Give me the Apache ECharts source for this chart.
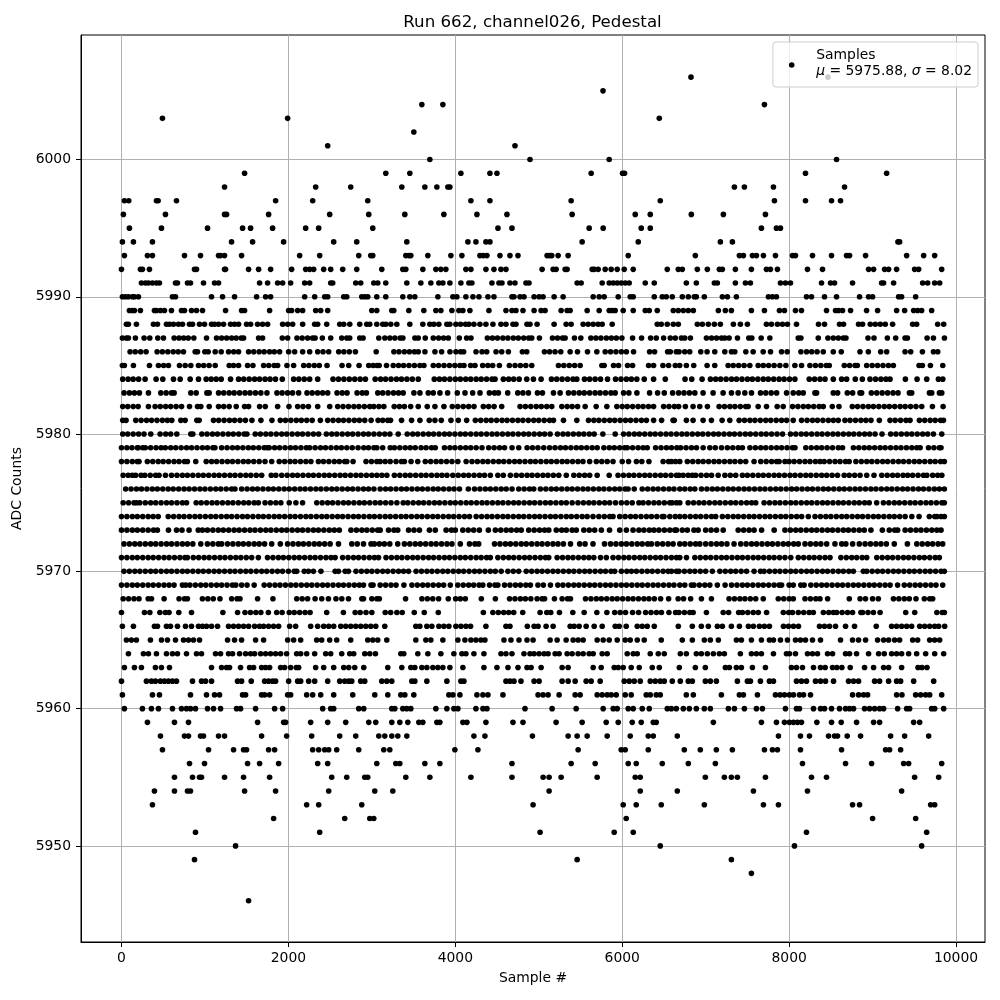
<!DOCTYPE html>
<html><head><meta charset="utf-8"><style>html,body{margin:0;background:#fff}#c{width:1000px;height:1000px}</style>
<script src="https://cdn.jsdelivr.net/npm/echarts@6/dist/echarts.min.js"></script></head><body><div id="c"></div><script>
const xTicks=[0,2000,4000,6000,8000,10000];
const yTicks=[5950,5960,5970,5980,5990,6000];
const y6006=[6824,8465];
const y6005=[5770];
const y6004=[3599,3851,7704];
const y6003=[491,1991,6444];
const y6002=[3503];
const y6001=[2471,4715];
const y6000=[3695,4895,5844,8568];
const y5999=[1475,3167,3455,4067,4415,4499,5628,6004,6028,8196,9168];
const y5998=[1235,2327,2747,3359,3635,3779,3911,3935,7344,7464,7812,8664];
const y5997=[35,87,419,439,659,1847,2291,2951,4187,4415,5388,6456,7824,8196,8508,8616];
const y5996=[23,527,1235,1259,1763,2495,2963,3395,3863,4259,4619,5400,6156,6336,6828,7212,7716];
const y5995=[95,479,1031,1451,1547,1811,2207,2363,3011,4511,4679,5604,5772,6228,6336,7668,7848,7896];
const y5994=[11,143,371,1319,1571,1943,2543,2819,3419,4151,4247,4367,4415,5520,6192,7176,7320,9304,9324];
const y5993=[35,311,371,755,947,1163,1187,1235,1439,2135,2375,2843,2987,3011,3407,3443,3467,3671,3947,4079,4295,4335,4379,4535,4655,4751,5100,5132,5156,5232,5352,6072,6876,7404,7452,7560,7608,7692,7836,8040,8076,8280,8508,8688,8724,8916,9408,9612,9744];
const y5992=[0,227,251,335,875,899,1235,1247,1523,1643,1787,2039,2207,2255,2303,2423,2507,2651,2819,3119,3371,3407,3611,3767,3827,3887,4127,4187,4367,4463,4547,4607,5040,5172,5208,5316,5340,5640,5664,5712,5796,5868,5940,6024,6132,6540,6672,6720,6900,7020,7164,7200,7356,7548,7728,7776,7860,8220,8400,8952,9012,9144,9192,9288,9504,9552,9828];
const y5991=[239,287,323,371,419,455,647,671,791,827,983,1115,1163,1655,1751,1871,1931,2027,2195,2255,2507,2531,2807,2867,3023,3071,3167,3419,3587,3707,3803,3851,3935,4067,4163,4199,4439,4523,4559,4655,4715,4847,4883,5460,5508,5760,5844,5892,5940,5988,6036,6084,6276,6384,6768,6888,7104,7140,7356,7476,7536,7896,7956,8016,8388,8496,8544,8760,9108,9132,9252,9600,9660,9744,9804];
const y5990=[11,47,83,131,155,203,611,647,1079,1211,1355,1619,1727,1787,2195,2315,2435,2471,2663,2699,2879,2915,2951,3059,3167,3371,3455,3515,3791,3971,4019,4127,4211,4283,4391,4463,4679,4703,4775,4823,4944,5004,5052,5184,5292,5652,5724,5784,5952,6096,6132,6384,6480,6528,6600,6720,6792,6864,6888,6984,7200,7260,7368,7752,7800,7848,8208,8268,8424,8568,8844,8952,9000,9312,9348,9516];
const y5989=[95,131,155,227,395,419,467,515,599,719,755,839,899,971,1247,1439,1475,1775,2003,2039,2111,2171,2327,2387,2471,2999,3059,3239,3263,3443,3623,3767,3827,3959,4043,4091,4175,4403,4607,4679,4727,4811,4944,5028,5076,5268,5340,5376,5580,5724,5844,5880,5916,6012,6132,6276,6324,6420,6612,6672,6732,6792,6852,7152,7236,7308,7548,7704,7884,7944,8076,8148,8448,8556,8592,8640,8736,8928,9060,9288,9384,9492,9540,9588,9708];
const y5988=[59,83,179,383,431,539,575,623,683,731,815,851,935,995,1079,1115,1163,1223,1307,1355,1403,1499,1547,1631,1691,1751,1931,1991,2051,2171,2315,2351,2459,2615,2663,2735,2855,2939,2975,3059,3131,3167,3227,3299,3455,3611,3695,3743,3803,3899,3935,4007,4063,4123,4163,4223,4295,4367,4451,4547,4607,4691,4727,4859,4895,4980,5184,5328,5388,5532,5592,5652,5712,5760,5880,6420,6468,6540,6612,6672,6900,6960,7032,7104,7176,7332,7416,7500,7728,7788,7860,7920,7980,8088,8352,8424,8604,8652,8832,8880,8972,9032,9092,9152,9240,9480,9528,9780,9852];
const y5987=[11,60,83,167,271,339,435,503,631,690,745,800,867,1019,1139,1200,1260,1320,1375,1435,1463,1643,1691,1927,1991,2103,2165,2230,2290,2320,2407,2507,2639,2700,2735,2855,2895,3083,3156,3216,3276,3340,3372,3516,3556,3640,3736,3800,3860,3916,4048,4136,4188,4384,4445,4505,4570,4630,4695,4755,4820,4880,4916,5008,5164,5225,5285,5316,5428,5504,5624,5685,5745,5810,5870,5930,5996,6124,6232,6340,6408,6496,6576,6636,6709,6749,6817,7009,7070,7130,7190,7229,7281,7381,7517,7553,7665,7769,8109,8141,8349,8465,8529,8590,8650,8681,8945,9017,9177,9277,9389,9417,9653,9729,9861];
const y5986=[103,165,230,295,427,490,555,620,680,743,883,911,999,1039,1123,1195,1283,1345,1403,1523,1585,1650,1710,1775,1831,1895,2003,2075,2171,2255,2351,2415,2483,2603,2665,2730,2803,3052,3264,3325,3390,3450,3510,3556,3636,3756,3836,3936,4008,4064,4100,4248,4320,4376,4488,4556,4636,4804,4856,5068,5130,5195,5264,5376,5464,5584,5696,5796,5860,5925,5990,6050,6136,6328,6388,6544,6576,6648,6681,6749,6809,6941,7017,7109,7229,7309,7349,7481,7569,7689,7777,7909,7977,8141,8209,8270,8335,8409,8529,8625,8849,8949,9097,9169,9389,9457,9597,9729,9781];
const y5985=[11,35,143,335,443,505,563,695,763,831,923,985,1050,1123,1291,1343,1403,1511,1575,1703,1765,1830,1871,1983,2063,2183,2245,2310,2370,2463,2643,2723,2847,2963,3063,3016,3088,3176,3256,3320,3380,3445,3510,3576,3624,3736,3800,3865,3930,3995,4056,4104,4184,4236,4328,4390,4448,4528,4648,4716,4780,4845,4916,5236,5300,5365,5430,5496,5756,5784,5896,5956,6064,6124,6316,6376,6488,6556,6636,6689,6769,6857,7017,7109,7269,7330,7395,7460,7529,7629,7690,7755,7820,7889,7961,8069,8149,8249,8315,8380,8445,8481,8661,8725,8790,8817,8929,8995,9060,9125,9190,9249,9557,9597,9693,9841];
const y5984=[15,80,140,205,283,415,495,623,703,823,923,1015,1075,1135,1195,1307,1403,1465,1530,1595,1655,1720,1780,1845,1927,2063,2125,2190,2255,2351,2535,2600,2665,2730,2795,2860,2923,3040,3105,3165,3230,3295,3355,3420,3485,3556,3748,3810,3870,3935,4000,4060,4125,4185,4250,4310,4375,4440,4476,4576,4640,4700,4765,4856,4936,5028,5152,5215,5280,5345,5410,5456,5548,5610,5675,5740,5824,5920,5985,6050,6110,6175,6264,6376,6516,6753,6833,6957,7057,7120,7180,7245,7310,7370,7435,7500,7560,7625,7690,7750,7815,7880,7940,8005,8069,8241,8305,8370,8430,8529,8629,8689,8793,8877,8969,9035,9100,9160,9209,9393,9533,9649,9789,9841];
const y5983=[31,95,155,215,323,471,535,600,631,831,895,1023,1051,1163,1225,1290,1350,1415,1480,1540,1605,1670,1743,1863,1925,1990,2050,2123,2223,2285,2350,2410,2471,2583,2645,2703,2823,2885,2935,3071,3130,3195,3260,3320,3376,3504,3576,3676,3736,3816,3908,4024,4116,4208,4296,4408,4470,4516,4628,4748,4810,4876,4984,5044,5176,5256,5356,5420,5485,5545,5610,5675,5735,5800,5865,5916,6016,6080,6176,6328,6424,6504,6604,6676,6740,6805,6870,6969,7089,7209,7309,7389,7469,7549,7657,7720,7785,7850,7969,8049,8115,8169,8309,8329,8529,8581,8697,8761,8849,8869,8985,9050,9115,9180,9245,9305,9441,9469,9681,9709,9801,9829];
const y5982=[15,75,140,200,323,403,465,530,590,655,720,815,911,951,1051,1163,1225,1290,1375,1475,1523,1655,1723,1871,2007,2111,2175,2240,2351,2495,2591,2655,2720,2785,2845,2910,2975,3023,3085,3144,3268,3330,3390,3465,3556,3664,3756,3864,3964,4030,4095,4160,4224,4336,4400,4465,4556,4776,4840,4905,4970,5030,5096,5156,5276,5340,5400,5465,5556,5688,5816,5936,6000,6060,6125,6190,6250,6315,6376,6496,6560,6625,6676,6757,6849,6929,7021,7161,7225,7290,7350,7415,7480,7509,7629,7729,7857,7929,8041,8105,8170,8230,8295,8360,8409,8517,8597,8757,8820,8885,8950,9010,9075,9140,9200,9265,9330,9390,9455,9520,9589,9717,9845];
const y5981=[15,55,171,235,300,360,425,490,550,603,711,763,903,931,1103,1165,1230,1295,1355,1420,1485,1563,1671,1803,1903,1965,2030,2095,2155,2220,2285,2383,2471,2535,2600,2660,2725,2790,2850,2915,2991,3075,3130,3190,3224,3356,3476,3576,3688,3756,3832,3948,4036,4136,4240,4305,4370,4430,4495,4560,4620,4685,4750,4810,4875,4940,5000,5065,5130,5176,5296,5456,5596,5660,5720,5785,5850,5910,5975,6040,6100,6165,6230,6290,6376,6472,6624,6609,6769,6849,6969,7069,7197,7289,7401,7465,7530,7590,7655,7720,7780,7845,7910,7970,8049,8149,8215,8280,8340,8405,8470,8530,8589,8669,8730,8795,8860,8920,8981,9081,9209,9270,9335,9400,9449,9561,9625,9690,9750,9815,9849];
const y5980=[15,75,140,205,270,351,463,530,590,663,831,855,963,1025,1090,1150,1215,1280,1340,1405,1470,1503,1603,1665,1730,1790,1855,1920,1980,2045,2110,2170,2235,2300,2363,2455,2520,2580,2645,2710,2770,2835,2900,2960,3025,3090,3155,3216,3316,3424,3490,3550,3615,3680,3740,3805,3870,3930,3995,4060,4120,4185,4250,4310,4375,4440,4500,4565,4630,4690,4755,4820,4880,4945,5010,5070,5136,5224,5290,5350,5415,5480,5540,5605,5664,5768,5916,6016,6080,6145,6205,6270,6335,6395,6460,6525,6585,6650,6715,6775,6840,6905,6965,7030,7095,7155,7220,7285,7345,7410,7475,7535,7600,7665,7725,7790,7855,7921,8017,8080,8145,8205,8270,8335,8395,8460,8525,8585,8650,8715,8775,8840,8905,8965,9030,9113,9217,9280,9345,9410,9470,9535,9600,9660,9729,9829];
const y5979=[0,65,125,190,200,255,285,350,415,475,525,590,650,715,780,840,905,970,1030,1095,1120,1200,1265,1330,1390,1455,1520,1580,1645,1710,1745,1770,1835,1895,1960,2025,2085,2150,2215,2255,2320,2385,2445,2510,2575,2635,2700,2765,2835,2903,2960,3025,3060,3130,3220,3270,3335,3400,3460,3520,3590,3650,3715,3760,3870,3935,3995,4060,4125,4185,4250,4320,4400,4465,4530,4590,4680,4760,4860,4925,4990,5060,5130,5195,5260,5320,5385,5450,5510,5575,5640,5700,5780,5845,5905,5970,6030,6060,6125,6190,6250,6300,6400,6465,6530,6590,6655,6700,6765,6830,6890,6970,7050,7115,7190,7260,7325,7390,7440,7530,7595,7660,7720,7785,7850,7910,7975,8040,8070,8200,8265,8330,8390,8455,8520,8590,8640,8770,8835,8900,8960,9025,9090,9150,9215,9280,9340,9405,9470,9530,9570,9670,9735,9800,9820];
const y5978=[0,65,130,190,210,310,375,440,500,565,630,690,755,790,890,1015,1080,1140,1205,1270,1330,1395,1460,1520,1585,1650,1720,1800,1890,1955,2020,2080,2145,2210,2270,2360,2420,2485,2550,2610,2675,2700,2775,2930,2995,3060,3100,3160,3220,3290,3355,3390,3470,3550,3640,3705,3770,3830,3895,3960,4030,4130,4200,4265,4330,4390,4455,4520,4580,4645,4710,4770,4835,4900,4960,5025,5090,5150,5215,5280,5340,5405,5470,5530,5610,5690,5755,5820,5890,6000,6076,6170,6235,6320,6490,6555,6590,6640,6690,6780,6845,6910,6970,7035,7100,7160,7225,7290,7350,7415,7480,7580,7660,7725,7790,7850,7880,7950,8000,8060,8125,8190,8250,8315,8370,8420,8485,8550,8610,8675,8720,8800,8865,8930,8990,9055,9120,9180,9245,9310,9370,9435,9500,9560,9625,9690,9750,9815,9860];
const y5977=[20,80,130,170,235,280,345,410,450,527,600,665,730,790,855,920,980,1045,1110,1170,1235,1300,1360,1425,1490,1550,1615,1680,1795,1850,1920,1985,2050,2110,2175,2240,2300,2365,2430,2490,2555,2620,2680,2745,2810,2870,2935,3000,3060,3120,3180,3270,3335,3400,3460,3525,3590,3650,3715,3780,3840,3900,3970,4035,4100,4160,4225,4290,4350,4420,4510,4575,4660,4730,4795,4860,4920,4985,5050,5110,5175,5240,5330,5420,5485,5550,5610,5700,5844,5950,6015,6080,6140,6205,6270,6330,6395,6460,6520,6585,6650,6680,6730,6790,6840,6880,6945,7010,7070,7150,7230,7295,7360,7440,7500,7565,7630,7690,7755,7820,7880,7945,8010,8070,8135,8200,8260,8325,8390,8450,8515,8580,8660,8720,8785,8850,8930,9017,9110,9175,9240,9300,9365,9420,9480,9545,9610,9650,9720,9780,9830];
const y5976=[50,115,180,240,305,370,430,495,560,620,685,750,810,875,940,1000,1065,1130,1190,1255,1320,1360,1440,1505,1570,1630,1695,1760,1820,1885,1950,2010,2075,2140,2200,2265,2330,2390,2455,2520,2580,2645,2710,2770,2835,2900,2960,3025,3100,3165,3225,3290,3355,3415,3480,3545,3605,3670,3735,3795,3860,3925,3985,4050,4156,4230,4295,4360,4420,4485,4550,4610,4680,4760,4825,4890,4940,5020,5085,5150,5210,5275,5340,5400,5465,5530,5590,5655,5720,5780,5845,5910,5970,6035,6070,6144,6240,6305,6370,6430,6495,6560,6620,6690,6750,6815,6870,6950,7015,7080,7140,7205,7270,7330,7395,7460,7520,7585,7650,7710,7775,7840,7900,7965,8030,8090,8155,8220,8280,8345,8410,8470,8535,8600,8660,8725,8790,8850,8915,8980,9040,9105,9170,9230,9295,9360,9420,9485,9550,9610,9675,9740,9800,9860];
const y5975=[20,85,150,180,220,285,350,410,475,540,600,665,730,780,895,955,1020,1085,1145,1210,1275,1335,1400,1465,1525,1590,1640,1720,1785,1850,1910,2010,2090,2170,2340,2405,2470,2530,2595,2660,2720,2785,2850,2910,2975,3040,3100,3165,3230,3300,3376,3430,3495,3560,3620,3685,3750,3810,3875,3940,4000,4065,4130,4190,4255,4320,4380,4445,4510,4570,4635,4700,4760,4825,4890,4950,5015,5080,5140,5205,5270,5330,5400,5470,5535,5600,5660,5725,5790,5850,5920,5990,6055,6120,6200,6250,6315,6380,6440,6505,6570,6600,6650,6690,6790,6855,6920,6980,7045,7110,7170,7235,7300,7360,7425,7490,7550,7600,7700,7765,7830,7890,7955,8020,8080,8145,8210,8270,8335,8400,8460,8525,8590,8650,8715,8780,8840,8905,8960,9049,9130,9195,9260,9320,9385,9450,9510,9575,9640,9700,9765,9830,9860];
const y5974=[0,65,130,190,255,320,380,440,560,625,690,750,815,880,940,1005,1070,1130,1195,1260,1320,1385,1450,1510,1575,1640,1700,1765,1830,1890,1955,2020,2080,2145,2210,2270,2335,2400,2460,2525,2590,2650,2715,2780,2840,2905,2970,3030,3095,3160,3220,3285,3350,3410,3475,3540,3600,3665,3730,3790,3855,3920,3980,4045,4110,4170,4250,4315,4380,4440,4505,4570,4630,4695,4760,4820,4885,4950,5010,5075,5140,5200,5265,5330,5390,5455,5520,5580,5650,5720,5785,5850,5890,5970,6035,6100,6160,6225,6290,6350,6415,6480,6500,6570,6635,6690,6750,6815,6880,6940,7005,7070,7120,7200,7265,7330,7390,7455,7520,7580,7645,7710,7770,7835,7900,7960,8025,8090,8150,8230,8310,8375,8440,8500,8565,8630,8690,8755,8820,8880,8945,9010,9070,9135,9200,9260,9325,9390,9470,9557,9680,9745,9770,9820,9860];
const y5973=[0,65,130,190,255,320,385,430,563,660,725,810,920,970,1030,1095,1160,1220,1285,1350,1410,1475,1540,1600,1665,1730,1790,1855,1920,1980,2045,2110,2170,2235,2300,2360,2425,2490,2550,2610,2750,2815,2880,2940,3005,3070,3100,3200,3265,3310,3440,3505,3570,3690,3760,3890,3955,4000,4090,4155,4220,4288,4396,4480,4545,4610,4670,4735,4790,4880,4945,5010,5070,5120,5210,5275,5330,5400,5450,5540,5605,5670,5750,5848,5970,6050,6130,6200,6260,6325,6380,6440,6505,6570,6630,6650,6720,6780,6860,6910,7000,7065,7130,7210,7390,7455,7520,7580,7670,7821,7950,8015,8080,8140,8205,8270,8330,8395,8460,8520,8585,8650,8710,8775,8840,8900,8980,9117,9200,9265,9300,9390,9455,9520,9580,9645,9710,9770,9820];
const y5972=[30,95,160,220,285,350,410,475,540,600,665,730,790,855,950,1030,1095,1160,1200,1270,1335,1400,1460,1525,1590,1650,1715,1800,1903,1990,2055,2120,2180,2245,2310,2370,2435,2500,2600,2760,2825,2900,2990,3030,3090,3150,3215,3310,3390,3455,3520,3580,3645,3710,3770,3835,3900,3960,4060,4170,4235,4280,4470,4535,4600,4660,4725,4790,4850,4915,4980,5040,5105,5170,5230,5295,5380,5490,5555,5650,5788,5860,5925,5990,6050,6115,6180,6240,6305,6350,6420,6485,6550,6610,6690,6750,6815,6880,6930,7000,7065,7130,7190,7255,7340,7420,7485,7550,7610,7675,7740,7800,7865,7930,7990,8055,8110,8190,8255,8320,8380,8450,8549,8630,8680,8761,8841,8910,8975,9040,9100,9165,9260,9417,9530,9595,9660,9720,9785,9840];
const y5971=[0,65,130,190,255,320,380,445,510,570,635,700,760,790,860,925,990,1050,1115,1180,1240,1305,1370,1430,1495,1560,1640,1750,1815,1880,1940,2005,2070,2130,2195,2260,2320,2385,2450,2510,2560,2650,2715,2780,2840,2905,2970,3030,3080,3170,3235,3300,3360,3425,3490,3550,3615,3680,3740,3805,3870,3930,3995,4060,4120,4185,4250,4310,4375,4420,4510,4575,4640,4700,4765,4830,4890,4955,5020,5080,5120,5220,5285,5350,5410,5475,5540,5600,5660,5740,5810,5890,5955,6020,6080,6145,6210,6270,6335,6400,6460,6525,6590,6650,6690,6770,6870,6935,7000,7060,7125,7190,7250,7315,7380,7440,7505,7570,7630,7695,7760,7820,7885,7950,8020,8110,8175,8240,8300,8365,8430,8490,8620,8685,8750,8810,8875,8930,9050,9115,9180,9240,9305,9370,9430,9495,9560,9620,9685,9750,9800];
const y5970=[30,95,160,220,285,350,410,475,540,600,665,730,790,855,920,980,1045,1110,1170,1235,1300,1360,1425,1490,1550,1615,1680,1740,1805,1870,1930,2000,2070,2100,2190,2240,2300,2390,2560,2600,2680,2720,2810,2875,2940,3000,3065,3130,3190,3255,3320,3380,3440,3530,3595,3660,3720,3785,3850,3910,3975,4040,4100,4165,4230,4290,4355,4420,4480,4550,4630,4695,4760,4850,4915,4980,5040,5105,5170,5230,5295,5360,5420,5485,5550,5610,5675,5740,5800,5865,5910,5990,6055,6110,6170,6235,6300,6360,6425,6490,6550,6590,6650,6680,6745,6810,6870,6935,7000,7080,7170,7235,7300,7360,7425,7490,7580,7657,7700,7765,7830,7890,7955,8020,8080,8145,8210,8270,8335,8400,8460,8525,8590,8650,8715,8770,8889,8930,8995,9060,9120,9185,9250,9310,9375,9440,9500,9565,9630,9690,9755,9820,9860];
const y5969=[0,65,130,190,255,320,380,445,510,570,630,730,770,820,885,950,1010,1075,1140,1200,1265,1330,1370,1440,1505,1590,1710,1775,1840,1900,1965,2030,2090,2155,2220,2280,2345,2410,2470,2535,2600,2660,2725,2790,2850,2900,3015,2990,3100,3165,3230,3290,3384,3480,3545,3610,3670,3735,3800,3860,3940,4030,4095,4160,4220,4285,4330,4410,4475,4510,4590,4655,4720,4780,4845,4900,4990,5055,5140,5228,5290,5355,5420,5480,5545,5610,5670,5735,5800,5860,5925,5990,6050,6115,6180,6240,6305,6370,6430,6495,6560,6620,6690,6750,6829,6860,6925,6990,7050,7140,7233,7310,7375,7440,7500,7565,7630,7690,7755,7820,7880,7910,8000,8050,8140,8180,8260,8325,8390,8450,8515,8580,8640,8705,8770,8830,8895,8960,9020,9085,9150,9210,9300,9380,9445,9510,9570,9635,9700,9760,9840];
const y5968=[20,85,150,210,320,360,511,690,755,790,970,1035,1100,1180,1320,1385,1420,1631,1815,2100,2165,2230,2320,2400,2480,2570,2640,2720,2880,2900,3000,3060,3090,3404,3600,3665,3730,3800,3916,4004,4060,4120,4312,4480,4650,4715,4780,4840,4905,4980,5040,5070,5188,5280,5345,5380,5560,5625,5690,5750,5815,5880,5940,6005,6070,6130,6195,6260,6320,6385,6460,6556,6670,6735,6820,6949,7069,7280,7345,7410,7470,7535,7600,7690,7870,7935,8000,8050,8190,8255,8320,8370,8461,8721,8850,8915,9000,9069,9250,9315,9380,9440,9520,9620,9685,9720];
const y5967=[0,275,340,460,525,570,687,839,1215,1391,1480,1545,1610,1670,1760,1860,1925,2010,2070,2135,2200,2260,2459,2659,2800,2860,2930,3000,3160,3225,3300,3364,3508,3628,3796,4336,4450,4515,4580,4640,4700,4808,5016,5096,5144,5248,5408,5544,5696,5816,5910,5975,6040,6124,6196,6280,6345,6410,6470,6560,6640,6680,6745,6810,6850,7009,7210,7275,7395,7440,7505,7570,7630,7730,7930,7995,8040,8110,8175,8240,8290,8410,8475,8530,8570,8635,8700,8760,8860,8880,8945,9010,9090,9397,9505,9770,9835,9860];
const y5966=[11,143,395,431,539,587,671,767,839,923,971,1019,1079,1151,1283,1343,1403,1463,1523,1595,1655,1703,1763,1823,1883,2015,2087,2267,2351,2423,2483,2543,2627,2687,2747,2807,2867,2927,2987,3047,3155,3527,3575,3659,3719,3803,3863,3923,4007,4067,4127,4183,4367,4607,4655,4863,4944,4992,5088,5172,5376,5424,5484,5568,5664,5760,5916,5964,6048,6180,6240,6300,6384,6672,6840,6948,7032,7140,7200,7308,7404,7512,7572,7644,7704,7764,7932,7992,8052,8112,8364,8424,8484,8556,8676,8784,9044,9228,9288,9348,9408,9468,9564,9624,9684,9744,9792,9864];
const y5965=[59,119,179,347,479,551,647,743,803,863,935,1271,1355,1439,1607,1703,1991,2063,2147,2339,2399,2495,2579,2747,2951,3011,3071,3179,3527,3647,3707,3851,4031,4115,4187,4247,4307,4355,4583,4667,4763,4859,4932,5136,5220,5328,5412,5472,5532,5700,5772,5844,5940,6036,6096,6180,6264,6468,6720,6840,6984,7056,7152,7368,7428,7548,7668,7764,7812,7896,7980,8076,8136,8196,8280,8376,8616,8760,8832,8916,9060,9132,9192,9264,9324,9480,9540,9684,9744,9804];
const y5964=[83,263,323,419,539,611,671,779,899,959,1127,1187,1283,1331,1415,1487,1547,1595,1667,1727,1787,1847,1907,1979,2099,2147,2219,2315,2447,2507,2639,2735,2783,2915,2975,3043,3347,3383,3551,3671,3827,3983,4079,4127,4223,4343,4547,4607,4679,4823,4895,4944,5004,5064,5112,5196,5244,5340,5400,5472,5532,5604,5652,5760,5820,6060,6132,6180,6336,6432,6504,6696,6768,6888,6948,7020,7092,7164,7224,7416,7548,7608,7668,7812,7968,8004,8076,8220,8280,8340,8460,8520,8676,8724,8808,8952,9072,9140,9228,9288,9348,9432,9528,9636,9744,9852];
const y5963=[35,155,239,407,479,575,1079,1199,1259,1295,1427,1535,1583,1679,1727,1775,1907,1955,2027,2095,2123,2327,2423,2543,2663,2723,2795,2903,3191,3359,3467,3515,3599,3659,3731,3791,3851,3935,4091,4343,4499,4631,4751,4859,4908,5028,5280,5352,5652,5748,5904,5952,6012,6108,6204,6360,6444,6684,6876,6996,7236,7284,7368,7428,7560,7716,8028,8088,8160,8292,8376,8432,8520,8572,8632,8732,8904,9012,9132,9192,9348,9544,9592,9652];
const y5962=[0,299,359,407,467,515,563,611,659,851,959,1007,1079,1391,1439,1555,1715,1763,1811,1847,2003,2111,2147,2243,2315,2471,2615,2675,2723,2759,2867,2915,3119,3179,3239,3479,3515,3659,3899,4067,4103,4607,4655,4703,4787,4944,5004,5280,5352,5436,5568,5628,5736,6024,6084,6144,6216,6336,6396,6456,6504,6600,6696,6792,6840,6996,7056,7128,7380,7500,7536,7656,7764,7812,8088,8148,8208,8316,8376,8436,8532,8712,8772,8832,9024,9084,9192,9288,9336,9492,9732];
const y5961=[11,371,455,827,1019,1115,1175,1451,1487,1679,1715,1775,1991,2027,2219,2291,2387,2543,2771,3035,3191,3347,3395,3503,3923,3971,4055,4259,4331,4391,4571,4992,5052,5112,5244,5436,5496,5700,5760,5820,5868,5928,6036,6108,6288,6336,6408,6456,6768,6852,7188,7404,7452,7620,7836,7892,7944,8004,8052,8124,8172,8256,8760,8832,8892,8940,9288,9352,9516,9576,9636,9684,9828];
const y5960=[35,251,359,443,611,719,779,827,887,1031,1103,1187,1379,1427,1607,1835,1931,2411,2507,2543,2843,2903,3239,3275,3371,3419,3467,3767,3899,3983,4031,4247,4331,4379,4835,5160,5448,5772,5892,5940,6072,6132,6240,6324,6540,6588,6648,6732,6804,6888,6984,7056,7272,7344,7464,7608,7680,7956,8088,8124,8292,8376,8424,8508,8604,8676,8724,8772,8904,8964,9024,9084,9132,9300,9408,9444,9708,9744,9852];
const y5959=[311,635,803,1631,1943,1967,2267,2471,2687,2963,3047,3239,3335,3431,3563,3611,3779,3815,4091,4139,4367,4691,4811,5208,5520,5808,5952,6120,6228,6372,6408,7092,7668,7848,7944,8004,8052,8100,8148,8332,8508,8624,8808,9012,9084,9492,9564];
const y5958=[467,755,803,947,983,1163,1235,1679,1979,2279,2615,2807,3083,3155,3239,3311,3419,4223,4355,4924,5352,5460,5580,5820,6096,6312,6372,6660,7872,8136,8244,8472,8544,8580,8696,8856,9216,9384,9672];
const y5957=[491,1043,1343,1463,1499,1763,1835,2291,2363,2435,2483,2579,2843,3143,3215,3995,4271,5472,5988,6036,6312,6744,6936,7128,7320,7704,7800,7860,8136,8628,9156,9204,9336];
const y5956=[815,995,1511,1655,1883,2351,2471,3059,3287,3335,3635,3815,4679,5388,5676,6072,6168,6480,6792,7116,8160,8676,8988,9372,9432,9828];
const y5955=[635,851,935,959,1235,1463,1775,2519,2699,2915,2951,3407,3695,4187,4679,5052,5124,5268,5700,6156,6216,6996,7224,7308,7380,7716,8268,8448,9504,9792];
const y5954=[395,635,791,827,1475,1847,2483,3035,3251,5124,6216,6660,7572,8220,9348];
const y5953=[371,2219,2363,2879,4932,6012,6168,6468,6984,7692,7872,8760,8844,9696,9744];
const y5952=[1823,2675,2975,3023,6048,9000,9516];
const y5951=[887,2375,5016,5904,6132,8208,9648];
const y5950=[1367,6456,8064,9588];
const y5949=[875,5460,7308];
const y5948=[7548];
const y5946=[1523];
const levels=[[6006,y6006],[6005,y6005],[6004,y6004],[6003,y6003],[6002,y6002],[6001,y6001],[6000,y6000],[5999,y5999],[5998,y5998],[5997,y5997],[5996,y5996],[5995,y5995],[5994,y5994],[5993,y5993],[5992,y5992],[5991,y5991],[5990,y5990],[5989,y5989],[5988,y5988],[5987,y5987],[5986,y5986],[5985,y5985],[5984,y5984],[5983,y5983],[5982,y5982],[5981,y5981],[5980,y5980],[5979,y5979],[5978,y5978],[5977,y5977],[5976,y5976],[5975,y5975],[5974,y5974],[5973,y5973],[5972,y5972],[5971,y5971],[5970,y5970],[5969,y5969],[5968,y5968],[5967,y5967],[5966,y5966],[5965,y5965],[5964,y5964],[5963,y5963],[5962,y5962],[5961,y5961],[5960,y5960],[5959,y5959],[5958,y5958],[5957,y5957],[5956,y5956],[5955,y5955],[5954,y5954],[5953,y5953],[5952,y5952],[5951,y5951],[5950,y5950],[5949,y5949],[5948,y5948],[5946,y5946]];
const data=[];for(const [v,xs] of levels)for(const x of xs)data.push([x,v]);
const F='DejaVu Sans';
const axis=(t,min,max,name,gap,m)=>({type:'value',min,max,name,nameLocation:'middle',nameGap:gap,nameTextStyle:{fontFamily:F,fontSize:13.9,color:'#000'},
 axisLine:{show:true,onZero:false,lineStyle:{color:'#000',width:1}},axisTick:{show:true,inside:false,length:5,customValues:t,lineStyle:{color:'#000',width:1}},
 axisLabel:{customValues:t,fontFamily:F,fontSize:13.9,color:'#000',margin:m,hideOverlap:false,formatter:v=>String(v)},
 splitLine:{show:true,customValues:t,lineStyle:{color:'#b0b0b0',width:1}}});
const chart=echarts.init(document.getElementById('c'),null,{renderer:'canvas'});
chart.setOption({animation:false,backgroundColor:'#fff',
 title:{text:'Run 662, channel026, Pedestal',left:527.5,top:9,textAlign:'center',textStyle:{fontFamily:F,fontSize:16.67,fontWeight:'normal',color:'#000'}},
 grid:{left:81,top:35,width:904,height:907,show:true,borderColor:'#000',borderWidth:1,backgroundColor:'#fff'},
 xAxis:axis(xTicks,-485,10347,'Sample #',29,9),
 yAxis:axis(yTicks,5943,6009.07,'ADC Counts',44,10),
 legend:{show:true,right:22,top:42,orient:'vertical',padding:[5,6,4,16],backgroundColor:'rgba(255,255,255,0.8)',borderColor:'#ccc',borderWidth:1,borderRadius:3,itemWidth:29,itemHeight:5.6,
  data:[{name:'S',icon:'circle'}],formatter:()=>'Samples\n{it|μ} = 5975.88, {it|σ} = 8.02',
  textStyle:{fontFamily:F,fontSize:13.9,color:'#000',lineHeight:16,padding:[0,0,4,5],rich:{it:{fontStyle:'italic',fontFamily:F,fontSize:13.9}}}},
 series:[{name:'S',type:'scatter',symbol:'circle',symbolSize:5.6,large:false,progressive:0,itemStyle:{color:'#000',opacity:1},data}]});
</script></body></html>
